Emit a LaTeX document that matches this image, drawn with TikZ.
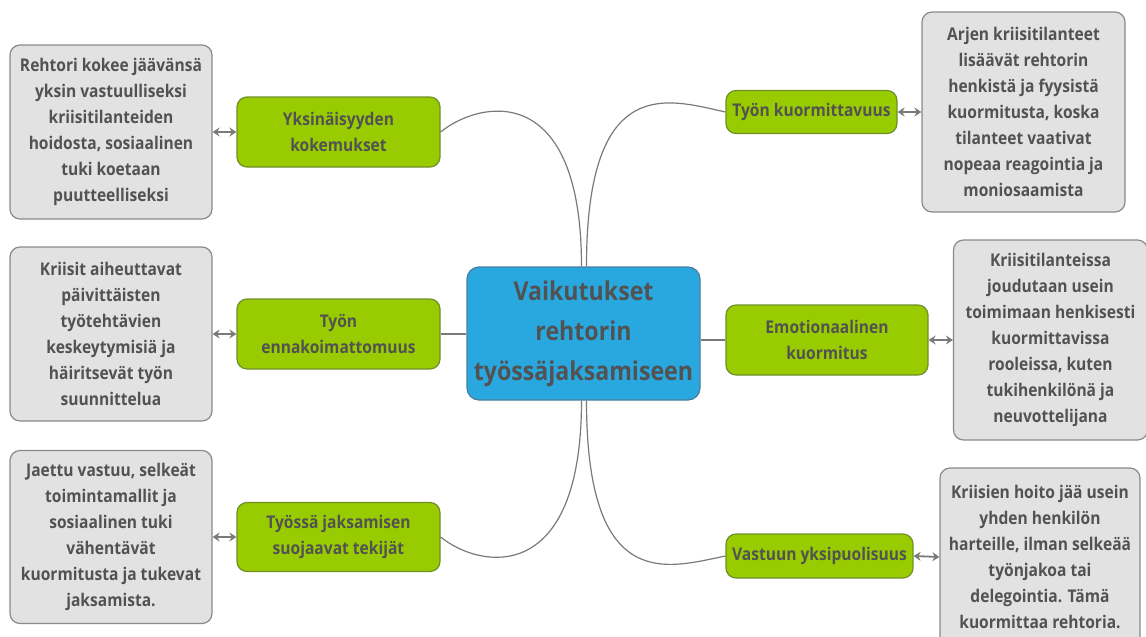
\documentclass[tikz,border=0pt]{standalone}
\usepackage{fontspec}
\setmainfont{Open Sans}[FakeStretch=0.89]
\usetikzlibrary{arrows.meta}
\definecolor{txt}{HTML}{525252}
\definecolor{grayfill}{HTML}{E2E2E2}
\definecolor{grayline}{HTML}{8A8A8A}
\definecolor{greenfill}{HTML}{99CC00}
\definecolor{greenline}{HTML}{6F8F2A}
\definecolor{bluefill}{HTML}{29A8E0}
\definecolor{blueline}{HTML}{4A7D9C}
\definecolor{conn}{HTML}{7A7A7A}
\tikzset{
  base/.style={rectangle, rounded corners=10pt, line width=1.2pt, align=center, inner sep=0pt, text=txt,
    font=\fontsize{17.5}{26}\selectfont\bfseries},
  graybox/.style={base, draw=grayline, fill=grayfill},
  greenbox/.style={base, draw=greenline, fill=greenfill},
  centerbox/.style={base, rounded corners=12pt, draw=blueline, fill=bluefill,
    font=\fontsize{26}{40}\selectfont\bfseries},
  link/.style={draw=conn, line width=1.2pt},
  biarrow/.style={draw=conn, line width=1.8pt, {Stealth[length=7pt,width=9pt]}-{Stealth[length=7pt,width=9pt]}}
}
\begin{document}
\begin{tikzpicture}[x=1pt,y=-1pt]
\useasboundingbox (0,0) rectangle (1146,637);
% center
\node[centerbox, minimum width=233pt, minimum height=133pt] (c) at (583.5,333.5)
  {Vaikutukset\\rehtorin\\työssäjaksamiseen};
% left green
\node[greenbox, minimum width=203pt, minimum height=70pt] (l1) at (338.5,132) {Yksinäisyyden\\kokemukset};
\node[greenbox, minimum width=203pt, minimum height=70pt] (l2) at (338.5,334) {Työn\\ennakoimattomuus};
\node[greenbox, minimum width=203pt, minimum height=69pt] (l3) at (338.5,537) {Työssä jaksamisen\\suojaavat tekijät};
% left gray
\node[graybox, minimum width=202pt, minimum height=174pt] (g1) at (111,132)
  {Rehtori kokee jäävänsä\\yksin vastuulliseksi\\kriisitilanteiden\\hoidosta, sosiaalinen\\tuki koetaan\\puutteelliseksi};
\node[graybox, minimum width=202pt, minimum height=174pt] (g2) at (111,334)
  {Kriisit aiheuttavat\\päivittäisten\\työtehtävien\\keskeytymisiä ja\\häiritsevät työn\\suunnittelua};
\node[graybox, minimum width=202pt, minimum height=173pt] (g3) at (111,537)
  {Jaettu vastuu, selkeät\\toimintamallit ja\\sosiaalinen tuki\\vähentävät\\kuormitusta ja tukevat\\jaksamista.};
% right green
\node[greenbox, minimum width=171pt, minimum height=43pt] (r1) at (811.5,112) {Työn kuormittavuus};
\node[greenbox, minimum width=202pt, minimum height=70pt] (r2) at (827,340) {Emotionaalinen\\kuormitus};
\node[greenbox, minimum width=187pt, minimum height=44pt] (r3) at (819.5,556) {Vastuun yksipuolisuus};
% right gray
\node[graybox, minimum width=203pt, minimum height=200pt] (h1) at (1023.5,112)
  {Arjen kriisitilanteet\\lisäävät rehtorin\\henkistä ja fyysistä\\kuormitusta, koska\\tilanteet vaativat\\nopeaa reagointia ja\\moniosaamista};
\node[graybox, minimum width=194pt, minimum height=200pt] (h2) at (1050.5,340)
  {Kriisitilanteissa\\joudutaan usein\\toimimaan henkisesti\\kuormittavissa\\rooleissa, kuten\\tukihenkilönä ja\\neuvottelijana};
\node[graybox, minimum width=200pt, minimum height=178pt] (h3) at (1040,557)
  {Kriisien hoito jää usein\\yhden henkilön\\harteille, ilman selkeää\\työnjakoa tai\\delegointia. Tämä\\kuormittaa rehtoria.};
% connectors
\draw[link] ([xshift=-2pt]c.north) .. controls (581.5,80) and (480,100) .. (l1.east);
\draw[link] ([xshift=3pt]c.north) .. controls (586.5,70) and (670,100) .. (r1.west);
\draw[link] ([xshift=-2pt]c.south) .. controls (581.5,587) and (480,569) .. (l3.east);
\draw[link] ([xshift=3pt]c.south) .. controls (586.5,597) and (670,567) .. (r3.west);
\draw[link] (c.west |- l2.east) -- (l2.east);
\draw[link] (c.east |- r2.west) -- (r2.west);
% arrows
\draw[biarrow] (g1.east) -- (l1.west);
\draw[biarrow] (g2.east) -- (l2.west);
\draw[biarrow] (g3.east) -- (l3.west);
\draw[biarrow] (r1.east) -- (h1.west);
\draw[biarrow] (r2.east) -- (h2.west);
\draw[biarrow] (r3.east) -- (h3.west);
\end{tikzpicture}
\end{document}
